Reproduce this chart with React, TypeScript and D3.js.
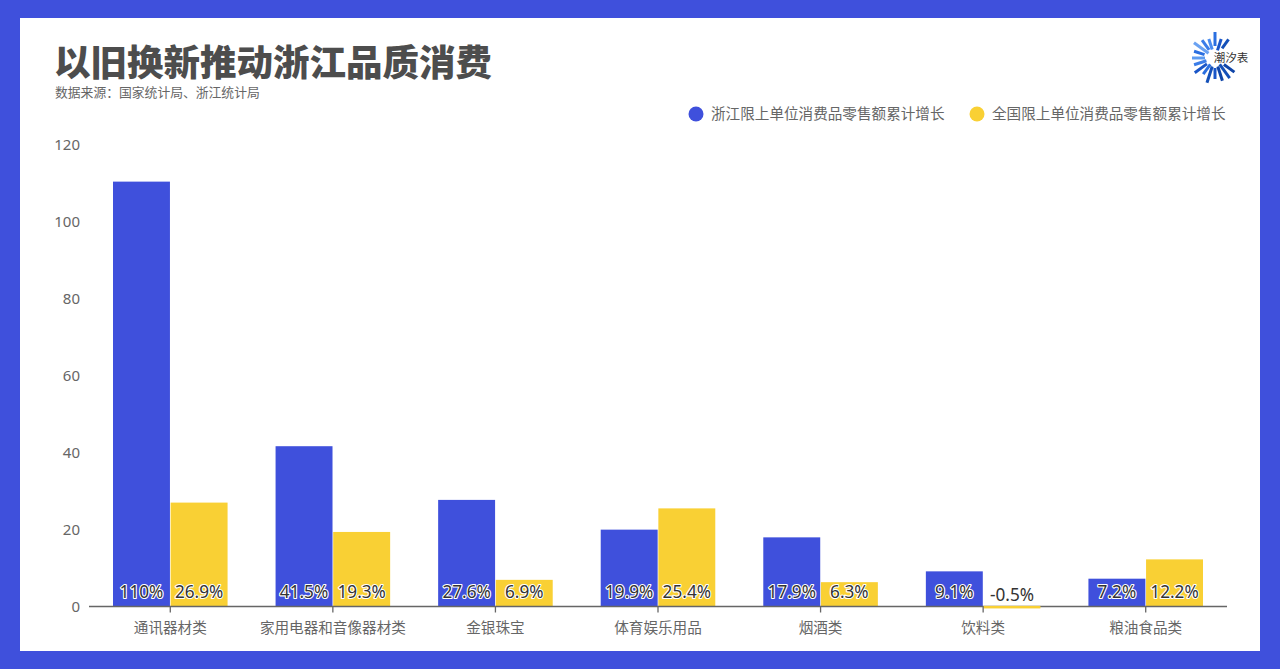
import * as d3 from "d3";

const WIDTH = 1280;
const HEIGHT = 669;
const MARGIN = { top: 143, left: 89, right: 1227, bottom: 606.5 };
const BLUE = "#3f50dc";
const YELLOW = "#f9d034";
const CJK = "'Noto Sans CJK SC', 'Noto Sans', sans-serif";
const LATIN = "'Noto Sans', 'Noto Sans CJK SC', sans-serif";

const categories = ["通讯器材类", "家用电器和音像器材类", "金银珠宝", "体育娱乐用品", "烟酒类", "饮料类", "粮油食品类"];
const zhejiang = [110, 41.5, 27.6, 19.9, 17.9, 9.1, 7.2];
const national = [26.9, 19.3, 6.9, 25.4, 6.3, -0.5, 12.2];
const zhejiangLabels = ["110%", "41.5%", "27.6%", "19.9%", "17.9%", "9.1%", "7.2%"];
const nationalLabels = ["26.9%", "19.3%", "6.9%", "25.4%", "6.3%", "-0.5%", "12.2%"];
const yTicks = [0, 20, 40, 60, 80, 100, 120];
const seriesNames = ["浙江限上单位消费品零售额累计增长", "全国限上单位消费品零售额累计增长"];

// logo rays: angle (deg), inner radius, outer radius, colour
const logoRays: [number, number, number, string][] = [
  [0, 12, 26, "#2a6fe0"], [18, 8, 20, "#1a56c8"], [36, 12, 23, "#1450b8"], [-18, 9, 20, "#4a8cf0"],
  [-36, 10, 22, "#3b7de8"], [-54, 8, 26, "#6aa2f2"], [-72, 11, 22, "#2a6fe0"], [-90, 10, 23, "#5c9bf0"],
  [-108, 9, 22, "#3b7de8"], [-126, 10, 25, "#1a56c8"], [-144, 8, 20, "#2a6fe0"], [-162, 9, 26, "#1450b8"],
  [180, 10, 21, "#1a56c8"], [162, 9, 24, "#0f45a8"], [144, 8, 25, "#1450b8"], [126, 11, 24, "#0f45a8"],
];

const LabelText = ({ x, y, text, outlined }: { x: number; y: number; text: string; outlined: boolean }) => (
  <text
    x={x}
    y={y}
    textAnchor="middle"
    fontFamily={LATIN}
    fontSize={17.2}
    fill="#333"
    stroke={outlined ? "#fff" : "none"}
    strokeWidth={outlined ? 2.2 : 0}
    strokeLinejoin="round"
    paintOrder="stroke"
  >
    {text}
  </text>
);

export default function App() {
  const x0 = d3.scaleBand<string>().domain(categories).range([MARGIN.left, MARGIN.right]);
  const x1 = d3.scaleBand<string>().domain(["zj", "cn"]).range([24, x0.bandwidth() - 24]).paddingInner(0.012);
  const y = d3.scaleLinear().domain([0, 120]).range([MARGIN.bottom, MARGIN.top]);

  const bar = (value: number) => ({
    y: y(Math.max(value, 0)),
    height: Math.abs(y(value) - y(0)),
  });

  return (
    <svg
      width={WIDTH}
      height={HEIGHT}
      style={{ position: "absolute", left: 0, top: 0, display: "block" }}
    >
      <rect width={WIDTH} height={HEIGHT} fill={BLUE} />
      <rect x={20} y={18} width={1240} height={633} fill="#fff" />

      <text x={54} y={76} fontFamily={CJK} fontSize={36.5} fontWeight={900} fill="#4d4d4d">
        以旧换新推动浙江品质消费
      </text>
      <text x={55} y={97} fontFamily={CJK} fontSize={12.8} fill="#666">
        数据来源：国家统计局、浙江统计局
      </text>

      <g transform="translate(1215,58)">
        {logoRays.map(([a, r0, r1, c], i) => {
          const t = (a * Math.PI) / 180;
          return (
            <line
              key={i}
              x1={Math.sin(t) * r0}
              y1={-Math.cos(t) * r0}
              x2={Math.sin(t) * r1}
              y2={-Math.cos(t) * r1}
              stroke={c}
              strokeWidth={3}
            />
          );
        })}
        <text x={16} y={4} textAnchor="middle" fontFamily={CJK} fontSize={11.5} fill="#333">
          潮汐表
        </text>
      </g>

      {seriesNames.map((name, i) => (
        <g key={name}>
          <circle cx={i === 0 ? 696 : 977} cy={114} r={7.5} fill={i === 0 ? BLUE : YELLOW} />
          <text x={i === 0 ? 711 : 992} y={119} fontFamily={CJK} fontSize={14.6} fill="#666">
            {name}
          </text>
        </g>
      ))}

      {yTicks.map((t) => (
        <text key={t} x={80} y={y(t) + 5.5 + (t / 120) * 1} textAnchor="end" fontFamily={LATIN} fontSize={15} fill="#666">
          {t}
        </text>
      ))}

      {categories.map((c, i) => {
        const zj = bar(zhejiang[i]);
        const cn = bar(national[i]);
        return (
          <g key={c}>
            <rect x={x0(c)! + x1("zj")!} y={zj.y} width={x1.bandwidth()} height={zj.height} fill={BLUE} />
            {national[i] >= 0 && (
              <rect x={x0(c)! + x1("cn")!} y={cn.y} width={x1.bandwidth()} height={cn.height} fill={YELLOW} />
            )}
          </g>
        );
      })}

      <line x1={MARGIN.left} x2={MARGIN.right} y1={y(0)} y2={y(0)} stroke="#666" strokeWidth={1.3} />
      {categories.map((c, i) => {
        const cx = x0(c)! + x0.bandwidth() / 2;
        const cn = bar(national[i]);
        return (
          <g key={c}>
            {/* the negative bar sits over the axis line */}
            {national[i] < 0 && (
              <rect x={x0(c)! + x1("cn")!} y={cn.y - 0.6} width={x1.bandwidth()} height={cn.height + 0.6} fill={YELLOW} />
            )}
            <line x1={cx} x2={cx} y1={y(0)} y2={y(0) + 6} stroke="#666" strokeWidth={1.3} />
            <text x={cx} y={633} textAnchor="middle" fontFamily={CJK} fontSize={14.6} fill="#666">
              {c}
            </text>
          </g>
        );
      })}

      {categories.map((c, i) => (
        <g key={c}>
          <LabelText x={x0(c)! + x1("zj")! + x1.bandwidth() / 2} y={598} text={zhejiangLabels[i]} outlined />
          <LabelText x={x0(c)! + x1("cn")! + x1.bandwidth() / 2} y={i === 5 ? 601 : 598} text={nationalLabels[i]} outlined={i !== 5} />
        </g>
      ))}
    </svg>
  );
}
